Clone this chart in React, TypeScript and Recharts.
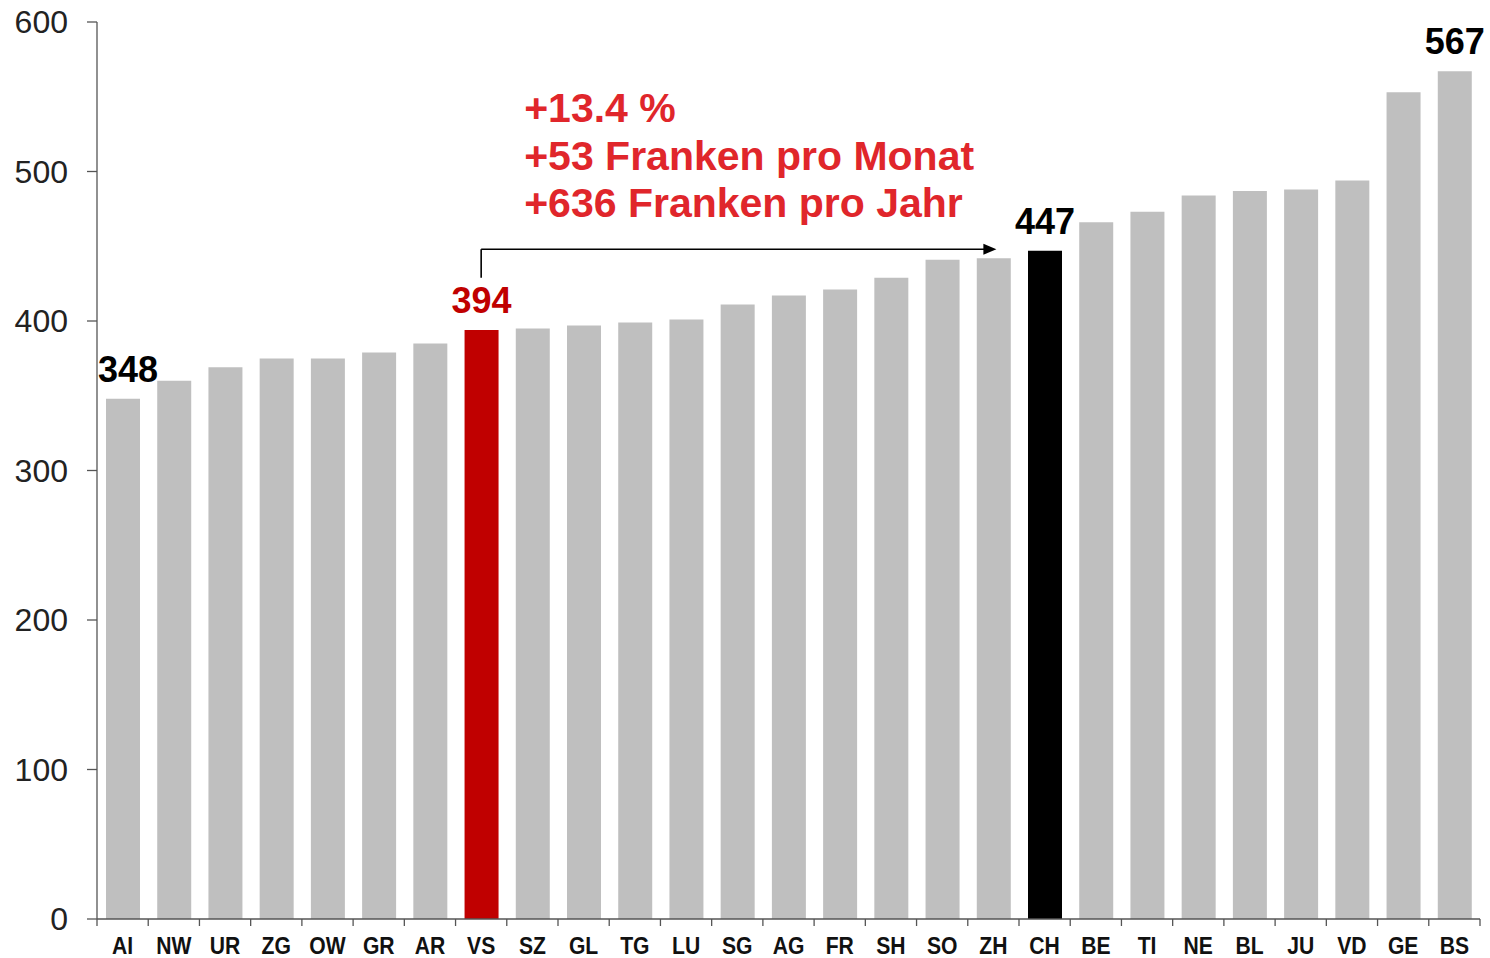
import React from 'react';
import { BarChart, Bar, XAxis, YAxis, Cell, LabelList, ReferenceLine } from 'recharts';

// monthly premium per canton (Franken)
const cantons = ['AI', 'NW', 'UR', 'ZG', 'OW', 'GR', 'AR', 'VS', 'SZ', 'GL', 'TG', 'LU', 'SG', 'AG', 'FR', 'SH', 'SO', 'ZH', 'CH', 'BE', 'TI', 'NE', 'BL', 'JU', 'VD', 'GE', 'BS'];
const premiums = [348, 360, 369, 375, 375, 379, 385, 394, 395, 397, 399, 401, 411, 417, 421, 429, 441, 442, 447, 466, 473, 484, 487, 488, 494, 553, 567];
const yTicks = [0, 100, 200, 300, 400, 500, 600];

const redCanton = 'VS';
const blackCanton = 'CH';
const labelledCantons = ['AI', 'VS', 'CH', 'BS'];

const noteLines = ['+13.4 %', '+53 Franken pro Monat', '+636 Franken pro Jahr'];
const arrowFrom = 'VS';
const arrowTo = 'ZH';
const arrowBase = 429;
const arrowLevel = 448;

const data = cantons.map((canton, i) => ({ canton, value: premiums[i] }));

const GREY = '#bfbfbf';
const RED = '#c00000';
const NOTE_RED = '#e0262b';
const AXIS = '#555';
const FONT = '"Liberation Sans", Arial, sans-serif';

const barColor = (canton: string) =>
  canton === redCanton ? RED : canton === blackCanton ? '#000' : GREY;

const CantonTick = (props: any) => {
  const { x, y, payload, index, visibleTicksCount } = props;
  const half = payload && payload.offset ? payload.offset : 25.6;
  const last = index === visibleTicksCount - 1;
  return (
    <g>
      <line x1={x - half} x2={x - half} y1={y - 7} y2={y} stroke={AXIS} strokeWidth={1.3} />
      {last && <line x1={x + half} x2={x + half} y1={y - 7} y2={y} stroke={AXIS} strokeWidth={1.3} />}
      <text
        transform={`translate(${x},${y + 28}) scale(0.88,1)`}
        textAnchor="middle"
        fontFamily={FONT}
        fontWeight="bold"
        fontSize={24}
        fill="#111"
      >
        {payload.value}
      </text>
    </g>
  );
};

const ValueLabel = (props: any) => {
  const { x, y, width, value, index } = props;
  const canton = cantons[index];
  if (!labelledCantons.includes(canton)) return null;
  const shift = index === 0 ? 5 : 0;
  return (
    <text
      x={x + width / 2 + shift}
      y={y - 17}
      textAnchor="middle"
      fontFamily={FONT}
      fontWeight="bold"
      fontSize={36}
      fill={canton === redCanton ? RED : '#000'}
    >
      {value}
    </text>
  );
};

const ArrowStem = (props: any) => {
  const { x1, y1, x2, y2 } = props;
  return <line x1={x1} y1={y1} x2={x2} y2={y2} stroke="#000" strokeWidth={1.6} />;
};

const ArrowWithNote = (props: any) => {
  const { x1, y1, x2 } = props;
  const tip = x2 + 3;
  return (
    <g>
      <line x1={x1} y1={y1} x2={tip - 10} y2={y1} stroke="#000" strokeWidth={1.6} />
      <polygon points={`${tip},${y1} ${tip - 13},${y1 - 5.5} ${tip - 13},${y1 + 5.5}`} fill="#000" />
      {noteLines.map((line, i) => (
        <text
          key={line}
          x={x1 + 43}
          y={y1 - 127 + i * 47.5}
          fontFamily={FONT}
          fontWeight="bold"
          fontSize={41}
          fill={NOTE_RED}
        >
          {line}
        </text>
      ))}
    </g>
  );
};

export default function App() {
  return (
    <div style={{ position: 'absolute', left: 0, top: 0, width: 1490, height: 958, background: '#fff' }}>
      <BarChart
        width={1490}
        height={958}
        data={data}
        margin={{ top: 22, right: 10, bottom: 0, left: 0 }}
        barSize={34}
      >
        <XAxis
          dataKey="canton"
          interval={0}
          height={39}
          tickSize={7}
          tickMargin={0}
          tickLine={false}
          axisLine={{ stroke: AXIS, strokeWidth: 1.3 }}
          tick={<CantonTick />}
        />
        <YAxis
          domain={[0, 600]}
          ticks={yTicks}
          width={97}
          tickSize={10}
          tickMargin={19}
          axisLine={{ stroke: AXIS, strokeWidth: 1.3 }}
          tickLine={{ stroke: AXIS, strokeWidth: 1.3 }}
          tick={{ fontFamily: FONT, fontSize: 32, fill: '#222' }}
        />
        <Bar dataKey="value" isAnimationActive={false}>
          {data.map((d) => (
            <Cell key={d.canton} fill={barColor(d.canton)} />
          ))}
          <LabelList dataKey="value" content={<ValueLabel />} />
        </Bar>
        <ReferenceLine
          segment={[{ x: arrowFrom, y: arrowBase }, { x: arrowFrom, y: arrowLevel }]}
          shape={ArrowStem}
        />
        <ReferenceLine
          segment={[{ x: arrowFrom, y: arrowLevel }, { x: arrowTo, y: arrowLevel }]}
          shape={ArrowWithNote}
        />
      </BarChart>
    </div>
  );
}
